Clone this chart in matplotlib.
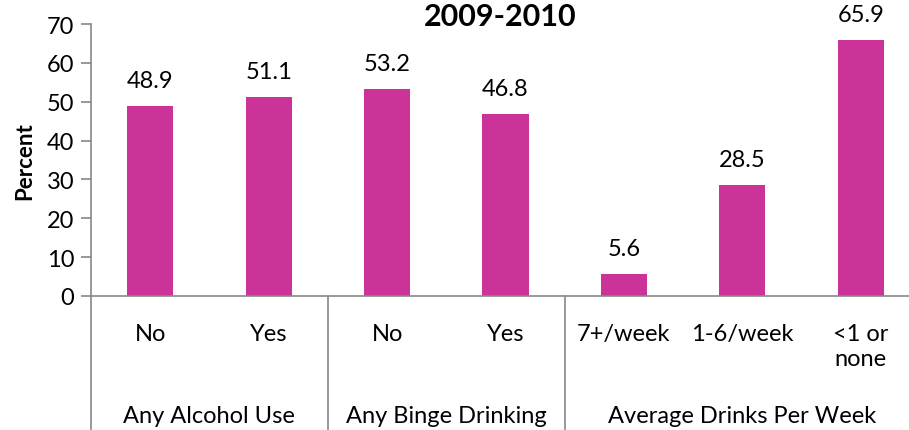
import matplotlib
matplotlib.use("Agg")
import matplotlib.pyplot as plt
import matplotlib.transforms as mtransforms

categories = ["No", "Yes", "No", "Yes", "7+/week", "1-6/week", "<1 or\nnone"]
values = [48.9, 51.1, 53.2, 46.8, 5.6, 28.5, 65.9]
groups = ["Any Alcohol Use", "Any Binge Drinking", "Average Drinks Per Week"]
group_spans = [(0, 1), (2, 3), (4, 6)]

plt.rcParams['font.family'] = ['Lato', 'DejaVu Sans']

fig = plt.figure(figsize=(9.09, 4.31), dpi=100)
# axes runs off the right edge, as in the original
ax = fig.add_axes([91 / 909, 134 / 431, 829 / 909, 272 / 431])

x = list(range(len(categories)))
bars = ax.bar(x, values, width=0.39, color='#CC3399')

for xi, v in zip(x, values):
    ax.annotate(f"{v}", (xi, v), xytext=(0, 11), textcoords='offset points',
                ha='center', va='bottom', fontsize=17)

ax.set_xlim(-0.5, len(categories) - 0.5)
ax.set_ylim(0, 70)
ax.set_yticks(range(0, 71, 10))
ax.tick_params(axis='y', labelsize=17, length=7, color='#888888', width=1.2, pad=5)
ax.set_xticks([])

for side in ['top', 'right']:
    ax.spines[side].set_visible(False)
for side in ['left', 'bottom']:
    ax.spines[side].set_color('#888888')
    ax.spines[side].set_linewidth(1.2)

ax.set_ylabel("Percent", fontsize=16, fontweight='bold', labelpad=8)
# title placed in figure pixels so it stays inside the image
fig.text(500 / 909, 1 - 17 / 431, "2009-2010", fontsize=22, fontweight='bold',
         ha='center', va='center')

trans = mtransforms.blended_transform_factory(ax.transData, ax.transAxes)

for xi, c in zip(x, categories):
    ax.text(xi, -0.1, c, transform=trans, ha='center', va='top',
            fontsize=17, multialignment='center', linespacing=1.25)

for name, (a, b) in zip(groups, group_spans):
    ax.text((a + b) / 2, -0.44, name, transform=trans, ha='center', va='center',
            fontsize=17)

for sep in [-0.5, 1.5, 3.5]:
    ax.plot([sep, sep], [0, -0.6], transform=trans, color='#888888', lw=1.2,
            clip_on=False)

fig.savefig('out.png', dpi=100)
